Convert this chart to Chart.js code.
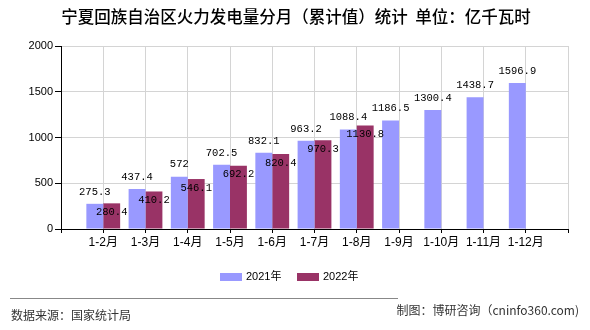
<!DOCTYPE html>
<html>
<head>
<meta charset="utf-8">
<script src="https://cdn.jsdelivr.net/npm/chart.js@4"></script>
<style>
html,body{margin:0;padding:0;background:#fff;}
#wrap{width:590px;height:330px;position:relative;}
</style>
</head>
<body>
<div id="wrap"><canvas id="c" width="590" height="330"></canvas></div>
<script>
const titleText = '宁夏回族自治区火力发电量分月（累计值）统计  单位：亿千瓦时';
const categories = ['1-2月','1-3月','1-4月','1-5月','1-6月','1-7月','1-8月','1-9月','1-10月','1-11月','1-12月'];
const seriesNames = ['2021年','2022年'];
const values2021 = [275.3,437.4,572,702.5,832.1,963.2,1088.4,1186.5,1300.4,1438.7,1596.9];
const values2022 = [280.4,410.2,546.1,692.2,820.4,970.3,1130.8,null,null,null,null];
const yTicks = [0,500,1000,1500,2000];
const sourceText = '数据来源：国家统计局';
const creditText = '制图：博研咨询（cninfo360.com)';

const colors = ['#9999FF','#993366'];
const labels = [''].concat(categories, ['']);
const pad = arr => [null].concat(arr, [null]);

const cjk = '"Liberation Sans","Noto Sans CJK SC",sans-serif';

const decor = {
  id:'decor',
  beforeDraw(chart){
    const ctx = chart.ctx;
    ctx.save();
    ctx.fillStyle='#fff';
    ctx.fillRect(0,0,chart.width,chart.height);
    ctx.restore();
  },
  afterDatasetsDraw(chart){
    const ctx = chart.ctx;
    ctx.save();
    ctx.font = '10.5px "Liberation Mono",monospace';
    ctx.textAlign='center';
    ctx.textBaseline='middle';
    ctx.fillStyle='#000';
    chart.data.datasets.forEach((ds,di)=>{
      const meta = chart.getDatasetMeta(di);
      meta.data.forEach((el,i)=>{
        const v = ds.data[i];
        if(v==null) return;
        const y = di===0 ? el.y-12 : el.y+9;
        ctx.fillText(String(v), el.x, y);
      });
    });
    ctx.restore();
  },
  afterDraw(chart){
    const ctx = chart.ctx;
    ctx.save();
    // title
    ctx.fillStyle='#000';
    ctx.font = '500 16.5px "Noto Sans CJK SC",sans-serif';
    ctx.textAlign='center';
    ctx.textBaseline='middle';
    ctx.fillText(titleText, 296, 17);
    // legend
    ctx.font = '11px '+cjk;
    ctx.textAlign='left';
    const lx = [220, 297];
    chart.data.datasets.forEach((ds,i)=>{
      ctx.fillStyle = ds.backgroundColor;
      ctx.fillRect(lx[i], 273, 22, 8);
      ctx.fillStyle='#000';
      ctx.fillText(ds.label, lx[i]+26, 277);
    });
    // separator
    ctx.strokeStyle='#888';
    ctx.lineWidth=1;
    ctx.beginPath();
    ctx.moveTo(10,298.5);
    ctx.lineTo(398,298.5);
    ctx.stroke();
    // footer
    ctx.fillStyle='#333';
    ctx.font = '12px "Noto Sans CJK SC",sans-serif';
    ctx.textAlign='left';
    ctx.fillText(sourceText, 11, 315);
    ctx.textAlign='right';
    ctx.fillText(creditText, 579, 310);
    ctx.restore();
  }
};

new Chart(document.getElementById('c'), {
  type:'bar',
  data:{
    labels: labels,
    datasets:[
      {label:seriesNames[0], data:pad(values2021), backgroundColor:colors[0]},
      {label:seriesNames[1], data:pad(values2022), backgroundColor:colors[1]}
    ]
  },
  options:{
    responsive:false,
    animation:false,
    devicePixelRatio:1,
    layout:{padding:{left:0,right:22,top:46,bottom:71}},
    categoryPercentage:0.8,
    barPercentage:1.0,
    plugins:{legend:{display:false},title:{display:false},tooltip:{enabled:false}},
    scales:{
      x:{
        offset:false,
        grid:{color:'#d4d4d4',tickColor:'#000',tickLength:4,offset:false},
        border:{color:'#000'},
        ticks:{color:'#000',font:{size:12,family:cjk},padding:2,maxRotation:0,autoSkip:false},
        afterFit(s){ s.height = 30; }
      },
      y:{
        min:0,max:2000,
        afterBuildTicks(s){ s.ticks = yTicks.map(v=>({value:v})); },
        grid:{color:'#d4d4d4',tickColor:'#000',tickLength:6},
        border:{color:'#000'},
        ticks:{color:'#000',font:{size:11,family:cjk},padding:2,callback:v=>String(v)},
        afterFit(s){ s.width = 61; }
      }
    }
  },
  plugins:[decor]
});
</script>
</body>
</html>
